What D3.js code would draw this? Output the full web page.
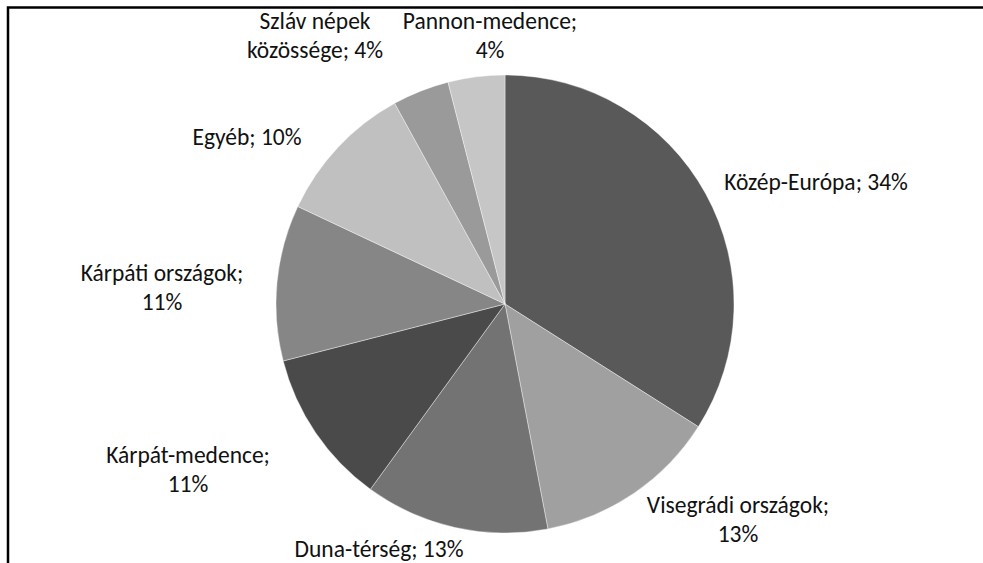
<!DOCTYPE html>
<html>
<head>
<meta charset="utf-8">
<script src="https://cdn.jsdelivr.net/npm/d3@7"></script>
<style>
  html, body { margin: 0; padding: 0; background: #fff; }
  svg { display: block; }
  text { font-family: Carlito, Calibri, Lato, sans-serif; font-size: 23.5px; fill: #111; }
</style>
</head>
<body>
<div id="chart"></div>
<script>
// Chart data
const categories = ["Közép-Európa", "Visegrádi országok", "Duna-térség", "Kárpát-medence",
  "Kárpáti országok", "Egyéb", "Szláv népek közössége", "Pannon-medence"];
const shares = [34, 13, 13, 11, 11, 10, 4, 4];
const labelLines = [
  ["Közép-Európa; 34%"],
  ["Visegrádi országok;", "13%"],
  ["Duna-térség; 13%"],
  ["Kárpát-medence;", "11%"],
  ["Kárpáti országok;", "11%"],
  ["Egyéb; 10%"],
  ["Szláv népek", "közössége; 4%"],
  ["Pannon-medence;", "4%"]
];
const colors = ["#595959", "#a0a0a0", "#737373", "#4a4a4a", "#868686", "#c0c0c0", "#9a9a9a", "#c6c6c6"];

// Layout
const width = 983;
const height = 563;
const cx = 505, cy = 304, radius = 229;
const lineHeight = 28.5;
// label centre offsets (first baseline) relative to the pie centre
const labelPos = [
  [311, -114], [233, 209], [-126, 253], [-317, 159],
  [-343, -23], [-258, -159], [-190, -275], [-15, -275]
];

const svg = d3.select("#chart").append("svg")
  .attr("width", width)
  .attr("height", height);

// frame (only top and left edges visible)
svg.append("path")
  .attr("d", `M8,${height} L8,7.5 L${width},7.5`)
  .attr("fill", "none")
  .attr("stroke", "#000")
  .attr("stroke-width", 2.5);

const pie = d3.pie().sort(null).value(d => d)
  .startAngle(0).endAngle(2 * Math.PI);
const arc = d3.arc().innerRadius(0).outerRadius(radius);

const g = svg.append("g").attr("transform", `translate(${cx},${cy})`);

g.selectAll("path.slice")
  .data(pie(shares))
  .enter()
  .append("path")
  .attr("class", "slice")
  .attr("d", arc)
  .attr("fill", (d, i) => colors[i])
  .attr("stroke", "#fff")
  .attr("stroke-width", 0.4);

// labels
const labels = g.selectAll("text.label")
  .data(pie(shares))
  .enter()
  .append("text")
  .attr("class", "label")
  .attr("text-anchor", "middle")
  .attr("transform", (d, i) => `translate(${labelPos[i][0]},${labelPos[i][1]})`);

labels.each(function(d, i) {
  const t = d3.select(this);
  labelLines[i].forEach((line, j) => {
    t.append("tspan")
      .attr("x", 0)
      .attr("y", j * lineHeight)
      .text(line);
  });
});
</script>
</body>
</html>
